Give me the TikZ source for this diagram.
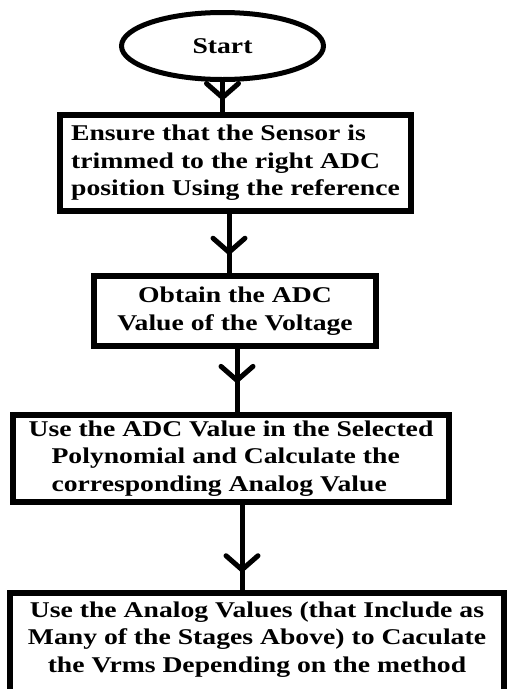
\documentclass[tikz,border=0pt]{standalone}
\usepackage{fontspec}
\newfontfamily\flowfont{Liberation Serif}[FakeStretch=1.23]
\usetikzlibrary{shapes.geometric}
\usetikzlibrary{arrows.meta}
\usetikzlibrary{decorations.markings}

\tikzset{
  stepbox/.style={rectangle,draw=black,line width=6pt,inner xsep=4pt,inner ysep=6pt,font=\flowfont\bfseries\fontsize{22.5}{27.5}\selectfont},
  flow/.style={draw=black,line width=5pt,postaction={decorate},decoration={markings,mark=at position #1 with {\arrow{Straight Barb[length=14pt,width=32pt,line width=5pt,round]}}}}
}

\begin{document}
\begin{tikzpicture}[x=1pt,y=-1pt]
\useasboundingbox (0,0) rectangle (507,689);
\clip (0,0) rectangle (507,689);
%\fill[white] (0,0) rectangle (507,689);
\path (222.5,46) node(start) [ellipse,draw=black,line width=5pt,minimum width=202pt,minimum height=67pt,font=\flowfont\bfseries\fontsize{22.5}{27.5}\selectfont]{Start};

\path (235.5,163) node(s1) [stepbox,align=left,minimum width=351pt,minimum height=96pt]{Ensure that the Sensor is\\
trimmed to the right ADC\\
position Using the reference};

\path (235,311) node(s2) [stepbox,align=center,minimum width=282pt,minimum height=70pt]{Obtain the ADC\\
Value of the Voltage};

\path (231,458.5) node(s3) [stepbox,align=left,minimum width=436pt,minimum height=87pt]{Use the ADC Value in the Selected\\
\hspace*{23pt}Polynomial and Calculate the\\
\hspace*{23pt}corresponding Analog Value};

\path (257,590) node(s4) [stepbox,anchor=north,align=center,minimum width=494pt,inner ysep=8.5pt,text depth=30pt]{Use the Analog Values (that Include as\\
Many of the Stages Above) to Caculate\\
the Vrms Depending on the method};

\draw[flow=0.6] (start.south) -- (start.south |- s1.north);
\draw[flow=0.69] ([xshift=-6.5pt]s1.south) -- ([xshift=-6.5pt]s1.south |- s2.north);
\draw[flow=0.54] ([xshift=2pt]s2.south) -- ([xshift=2pt]s2.south |- s3.north);
\draw[flow=0.79] ([xshift=11pt]s3.south) -- ([xshift=11pt]s3.south |- s4.north);
\end{tikzpicture}
\end{document}
